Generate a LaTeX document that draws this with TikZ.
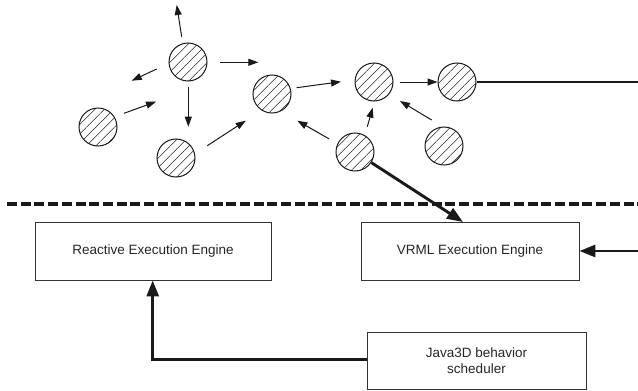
\documentclass[tikz,border=0pt]{standalone}
\usepackage{fontspec}
\setmainfont{Liberation Sans}
\usetikzlibrary{arrows.meta,patterns.meta,calc}

\begin{document}
\begin{tikzpicture}[x=1pt,y=-1pt,
  ball/.style={circle, draw=black!90, line width=1pt, minimum size=38pt, inner sep=0pt,
    pattern={Lines[angle=45,distance=6.6pt,line width=0.55pt]}, pattern color=black!85},
  enginebox/.style={draw=black!80, line width=0.9pt, fill=white, text=black!85,
    font=\fontsize{13.5}{15.5}\selectfont, align=center, inner sep=0pt},
  thinarrow/.style={draw=black!90, line width=1pt, -{Triangle[length=10pt,width=7pt]}},
  thickarrow/.style={draw=black!90, line width=2.9pt, -{Triangle[length=16pt,width=12pt]}},
  thickline/.style={draw=black!90, line width=2.9pt},
  divider/.style={draw=black!90, line width=3.2pt, dash pattern=on 10pt off 3.7pt},
]
\useasboundingbox (0,0) rectangle (638,391);

% agents of the virtual world
\node[ball] (c1) at (188,62) {};
\node[ball] (c2) at (98,127) {};
\node[ball] (c3) at (176,158) {};
\node[ball] (c4) at (272,94) {};
\node[ball] (c5) at (374,82) {};
\node[ball] (c6) at (457,82) {};
\node[ball] (c7) at (355,152) {};
\node[ball] (c8) at (444,146) {};

% end points of the free-standing message arrows
\coordinate (up1)  at (181.7,36.7);  \coordinate (up2)  at (176.7,5);
\coordinate (lf1)  at (156.7,69);    \coordinate (lf2)  at (131.7,80.7);
\coordinate (rt1)  at (220,62.3);    \coordinate (rt2)  at (258.3,62.3);
\coordinate (dn1)  at (188.3,87.3);  \coordinate (dn2)  at (188.3,126.7);
\coordinate (c2a)  at (124,113.3);   \coordinate (c2b)  at (156,101.7);
\coordinate (c3a)  at (207.3,145.7); \coordinate (c3b)  at (245.7,120.7);
\coordinate (c4a)  at (296.7,87.7);  \coordinate (c4b)  at (341,81.7);
\coordinate (c7a)  at (367.3,126.7); \coordinate (c7b)  at (372.7,107.7);
\coordinate (c7c)  at (329.3,139);   \coordinate (c7d)  at (297.3,120.7);
\coordinate (c8a)  at (431.7,120);   \coordinate (c8b)  at (400,101);

\draw[thinarrow] (up1) -- (up2);
\draw[thinarrow] (lf1) -- (lf2);
\draw[thinarrow] (rt1) -- (rt2);
\draw[thinarrow] (dn1) -- (dn2);
\draw[thinarrow] (c2a) -- (c2b);
\draw[thinarrow] (c3a) -- (c3b);
\draw[thinarrow] (c4a) -- (c4b);
\draw[thinarrow, shorten <=6pt] (c5) -- (c6);
\draw[thinarrow] (c7a) -- (c7b);
\draw[thinarrow] (c7c) -- (c7d);
\draw[thinarrow] (c8a) -- (c8b);

% separation between world and engines
\coordinate (dl) at (7,204);
\coordinate (dr) at (638,204);
\draw[divider] (dl) -- (dr);

% engines
\node[enginebox, minimum width=236pt, minimum height=58pt] (react) at (153,251) {Reactive Execution Engine};
\node[enginebox, minimum width=218pt, minimum height=58pt] (vrml) at (470,251) {VRML Execution Engine};
\node[enginebox, minimum width=219pt, minimum height=57pt] (java) at (476.5,360.5) {Java3D behavior\\scheduler};

% thick connections
\coordinate (outr) at (638,82);
\draw[thickline] (c6) -- (outr);
\coordinate (vin) at (463,222);
\draw[thickarrow] (c7) -- (vin);
\coordinate (inr) at (638,251);
\draw[thickarrow] (inr) -- (vrml.east);
\coordinate (bend) at (152.7,359.5);
\draw[thickarrow] (java.west |- bend) -- (bend) -- (bend |- react.south);
\end{tikzpicture}
\end{document}
